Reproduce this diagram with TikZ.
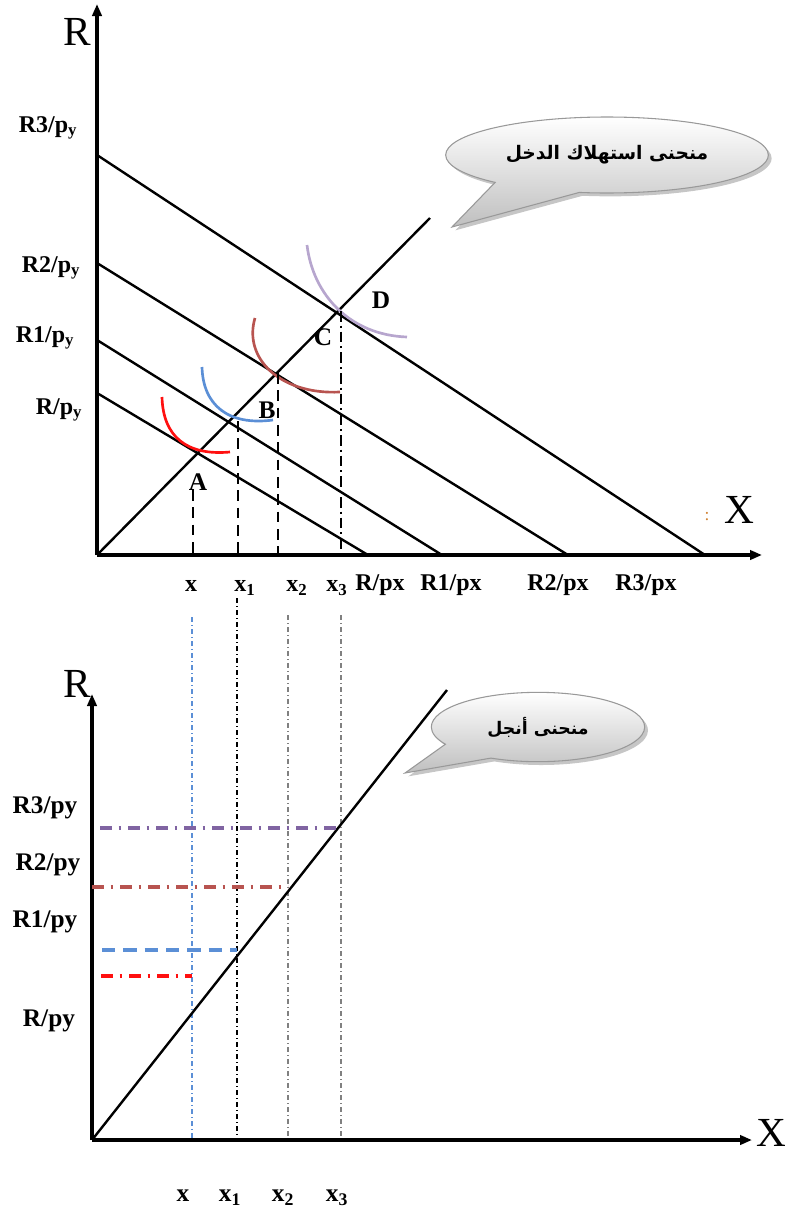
\documentclass[tikz,border=0pt]{standalone}
\usepackage{fontspec}
\setmainfont{Liberation Serif}
\newfontfamily\arabicfont[Script=Arabic]{DejaVu Sans}
\TeXXeTstate=1
\usetikzlibrary{shapes.callouts,shadows,arrows.meta}
\definecolor{icred}{HTML}{FF1010}
\definecolor{icblue}{HTML}{5B8FD6}
\definecolor{icbrown}{HTML}{B85450}
\definecolor{icpurple}{HTML}{B7A6CE}
\definecolor{dpurple}{HTML}{8064A2}
\definecolor{vgray}{HTML}{808080}
\definecolor{dotorange}{HTML}{D08030}
\begin{document}
\begin{tikzpicture}[x=0.75pt,y=-0.75pt,
  axis/.style={line width=2.5pt,-{Triangle[length=9pt,width=7pt]}},
  budget/.style={line width=1.8pt},
  icurve/.style={line width=2pt},
  vdash/.style={line width=1.5pt,dash pattern=on 8pt off 5pt},
  vdashdot/.style={line width=1.5pt,dash pattern=on 8pt off 3pt on 1.5pt off 3pt},
  thinv/.style={line width=1pt,dash pattern=on 4pt off 2pt on 1pt off 2pt},
  hline/.style={line width=2.4pt},
  lbl/.style={inner sep=0pt,font=\fontsize{18}{20}\selectfont\bfseries},
  lblb/.style={inner sep=0pt,font=\fontsize{19}{21}\selectfont\bfseries},
  axlbl/.style={inner sep=0pt,font=\fontsize{31}{34}\selectfont},
  bubble/.style={ellipse callout,draw=gray!80,line width=0.8pt,top color=white,bottom color=gray!50,
    drop shadow={opacity=0.45,shadow xshift=2.5pt,shadow yshift=-2.5pt},callout pointer arc=34,inner sep=0pt}
]
\useasboundingbox (0,0) rectangle (785,1214);

% ---------------- top panel ----------------
\coordinate (O1) at (97,555);
\coordinate (Ytop) at (97,4);
\coordinate (Xtop) at (762,555);
\draw[axis] (O1) -- (Ytop);
\draw[axis] (O1) -- (Xtop);
\node[axlbl] (Rtop) at (77,32) {R};
\node[axlbl] (Xlab) at (739,510) {X};
\node[inner sep=0pt,text=dotorange,font=\fontsize{13}{14}\selectfont] (colon) at (707,517) {:};

% budget lines
\coordinate (L0) at (97,393); \coordinate (M0) at (368,555);
\coordinate (L1) at (97,340); \coordinate (M1) at (442,555);
\coordinate (L2) at (97,263); \coordinate (M2) at (568,555);
\coordinate (L3) at (97,155); \coordinate (M3) at (705,555);
\draw[budget] (L0) -- (M0);
\draw[budget] (L1) -- (M1);
\draw[budget] (L2) -- (M2);
\draw[budget] (L3) -- (M3);

% income consumption curve
\coordinate (E1) at (430,218);
\draw[budget] (O1) -- (E1);
\coordinate (A) at (intersection of O1--E1 and L0--M0);
\coordinate (B) at (intersection of O1--E1 and L1--M1);
\coordinate (C) at (intersection of O1--E1 and L2--M2);
\coordinate (D) at (intersection of O1--E1 and L3--M3);

% indifference curves
\draw[icurve,icred] (162,397) .. controls (163,436) and (186,456) .. (230,452);
\draw[icurve,icblue] (202,367) .. controls (203,405) and (228,426) .. (273,420);
\draw[icurve,icbrown] (255,318) .. controls (243,358) and (280,395) .. (340,392);
\draw[icurve,icpurple] (307,245) .. controls (313,295) and (350,335) .. (407,337);

% point labels
\node[lblb] (lA) at (198,482) {A};
\node[lblb] (lB) at (267,410) {B};
\node[lblb] (lC) at (323,337) {C};
\node[lblb] (lD) at (381,300) {D};

% vertical projections
\coordinate (vA1) at (193,490); \coordinate (vA2) at (193,555);
\coordinate (vB1) at (238,421); \coordinate (vB2) at (238,555);
\coordinate (vC1) at (278,373); \coordinate (vC2) at (278,555);
\coordinate (vD1) at (341,311); \coordinate (vD2) at (341,555);
\draw[vdash] (vA1) -- (vA2);
\draw[vdash] (vB1) -- (vB2);
\draw[vdash] (vC1) -- (vC2);
\draw[vdashdot] (vD1) -- (vD2);

% y labels
\node[lbl] (ry3) at (48,128) {R3/p\textsubscript{y}};
\node[lbl] (ry2) at (51,268) {R2/p\textsubscript{y}};
\node[lbl] (ry1) at (45,338) {R1/p\textsubscript{y}};
\node[lbl] (ry0) at (59,410) {R/p\textsubscript{y}};

% x labels
\node[lbl] (tx0) at (191,586) {x};
\node[lbl] (tx1) at (245,588) {x\textsubscript{1}};
\node[lbl] (tx2) at (297,588) {x\textsubscript{2}};
\node[lbl] (tx3) at (337,588) {x\textsubscript{3}};
\node[lbl] (rx0) at (380,585) {R/px};
\node[lbl] (rx1) at (451,585) {R1/px};
\node[lbl] (rx2) at (558,585) {R2/px};
\node[lbl] (rx3) at (646,585) {R3/px};

% callout top
\node[bubble,minimum width=242pt,minimum height=57pt,callout absolute pointer={(452,227)}] (call1) at (607,155)
  {\arabicfont\bfseries\fontsize{14}{16}\selectfont\beginR منحنى استهلاك الدخل\endR};

% ---------------- connecting thin lines ----------------
\coordinate (t0) at (192,617); \coordinate (b0) at (192,1140);
\coordinate (t1) at (237,598); \coordinate (b1) at (237,1140);
\coordinate (t2) at (288,615); \coordinate (b2) at (288,1140);
\coordinate (t3) at (341,615); \coordinate (b3) at (341,1140);
\draw[thinv,icblue] (t0) -- (b0);
\draw[thinv,black] (t1) -- (b1);
\draw[thinv,vgray,line width=1.4pt] (t2) -- (b2);
\draw[thinv,vgray,line width=1.4pt] (t3) -- (b3);

% ---------------- bottom panel ----------------
\coordinate (O2) at (92,1140);
\coordinate (Ytop2) at (92,694);
\coordinate (Xtop2) at (752,1140);
\draw[axis] (O2) -- (Ytop2);
\draw[axis] (O2) -- (Xtop2);
\node[axlbl] (Rbot) at (77,684) {R};
\node[axlbl] (Xbot) at (771,1133) {X};

% Engel curve
\coordinate (E2) at (447,690);
\draw[budget] (O2) -- (E2);

% horizontal projections
\coordinate (h3a) at (100,828); \coordinate (h3b) at (341,828);
\coordinate (h2a) at (92,887);  \coordinate (h2b) at (288,887);
\coordinate (h1a) at (102,950); \coordinate (h1b) at (237,950);
\coordinate (h0a) at (101,976); \coordinate (h0b) at (192,976);
\draw[hline,dpurple,dash pattern=on 9pt off 5pt on 2pt off 5pt] (h3a) -- (h3b);
\draw[hline,icbrown,dash pattern=on 9pt off 5pt on 2pt off 5pt] (h2a) -- (h2b);
\draw[hline,icblue,dash pattern=on 10pt off 6pt] (h1a) -- (h1b);
\draw[hline,icred,dash pattern=on 9pt off 5pt on 2pt off 5pt] (h0a) -- (h0b);

% y labels bottom
\node[lblb] (by3) at (45,808) {R3/py};
\node[lblb] (by2) at (48,865) {R2/py};
\node[lblb] (by1) at (45,922) {R1/py};
\node[lblb] (by0) at (49,1021) {R/py};

% x labels bottom
\node[lblb] (bx0) at (183,1196) {x};
\node[lblb] (bx1) at (230,1198) {x\textsubscript{1}};
\node[lblb] (bx2) at (283,1198) {x\textsubscript{2}};
\node[lblb] (bx3) at (337,1198) {x\textsubscript{3}};

% callout bottom
\node[bubble,minimum width=160pt,minimum height=52pt,callout absolute pointer={(405,773)}] (call2) at (538,727)
  {\arabicfont\bfseries\fontsize{13}{15}\selectfont\beginR منحنى أنجل\endR};
\end{tikzpicture}
\end{document}
